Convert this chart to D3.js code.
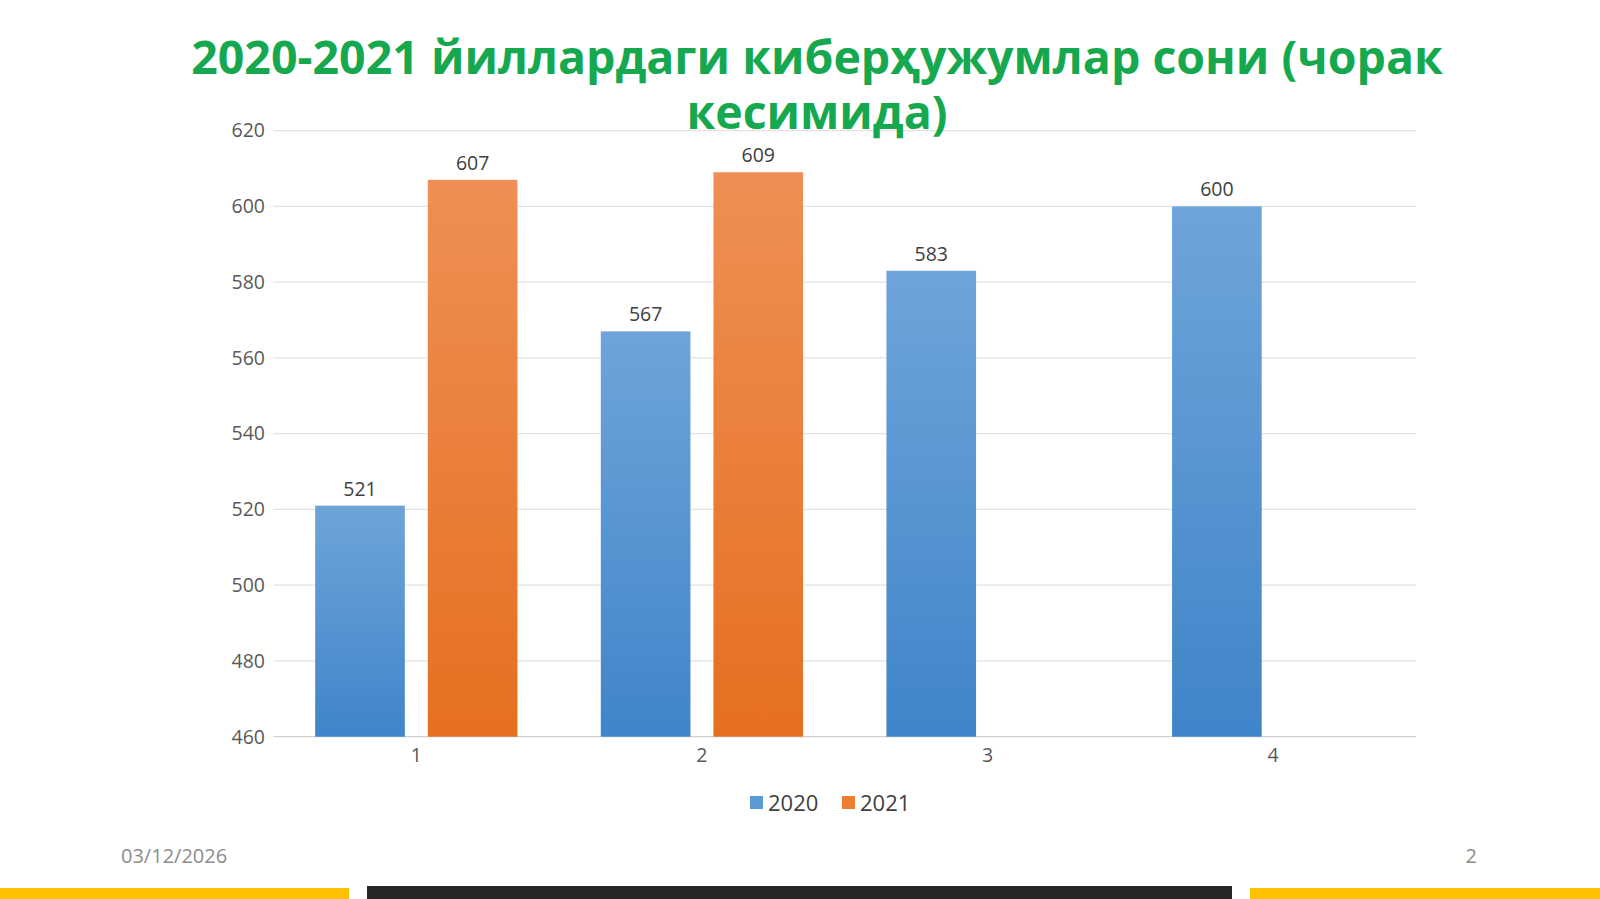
<!DOCTYPE html>
<html><head><meta charset="utf-8">
<script src="https://cdn.jsdelivr.net/npm/d3@7"></script>
<style>body{margin:0;background:#fff;font-family:"Open Sans",sans-serif}</style>
</head><body><svg id="c" width="1600" height="899"></svg>
<script>
const categories = ["1","2","3","4"];
const series = ["2020","2021"];
const values2020 = [521,567,583,600];
const values2021 = [607,609,null,null];
const yTicks = [460,480,500,520,540,560,580,600,620];
const titleLines = ["2020-2021 йиллардаги киберҳужумлар сони (чорак","кесимида)"];

const svg = d3.select("#c");
const defs = svg.append("defs");
function grad(id,top,bot){const g=defs.append("linearGradient").attr("id",id).attr("x1",0).attr("x2",0).attr("y1",0).attr("y2",1);
g.append("stop").attr("offset","0%").attr("stop-color",top);g.append("stop").attr("offset","100%").attr("stop-color",bot);}
grad("gb","#6fa4da","#3f85c9"); grad("go","#ef8f55","#e5701f");

const x = d3.scaleBand().domain(categories).range([273.5,1416]);
const xs = d3.scaleBand().domain(series).range([0,x.bandwidth()]).paddingInner(0.204).paddingOuter(0.37);
const y = d3.scaleLinear().domain([460,620]).range([736.7,130.6]);

svg.append("g").selectAll("line").data(yTicks).join("line")
 .attr("x1",273.5).attr("x2",1416).attr("y1",d=>y(d)).attr("y2",d=>y(d))
 .attr("stroke",d=>d===460?"#d0d0d0":"#e3e3e3").attr("stroke-width",1.3);
svg.append("g").selectAll("text").data(yTicks).join("text")
 .attr("x",265).attr("y",d=>y(d)).attr("dy","0.35em").attr("text-anchor","end")
 .attr("font-size",19.5).attr("fill","#595959").text(d=>d);
svg.append("g").selectAll("text").data(categories).join("text")
 .attr("x",d=>x(d)+x.bandwidth()/2).attr("y",762).attr("text-anchor","middle")
 .attr("font-size",19.5).attr("fill","#595959").text(d=>d);

const data=[];
categories.forEach((c,i)=>{
 if(values2020[i]!=null)data.push({c,s:"2020",v:values2020[i]});
 if(values2021[i]!=null)data.push({c,s:"2021",v:values2021[i]});
});
svg.append("g").selectAll("rect").data(data).join("rect")
 .attr("x",d=>x(d.c)+xs(d.s)).attr("width",xs.bandwidth())
 .attr("y",d=>y(d.v)).attr("height",d=>y(460)-y(d.v))
 .attr("fill",d=>d.s==="2020"?"url(#gb)":"url(#go)");
svg.append("g").selectAll("text").data(data).join("text")
 .attr("x",d=>x(d.c)+xs(d.s)+xs.bandwidth()/2).attr("y",d=>y(d.v)-10)
 .attr("text-anchor","middle").attr("font-size",19.5).attr("fill","#404040").text(d=>d.v);

svg.selectAll(".t").data(titleLines).join("text")
 .attr("x",817).attr("y",(d,i)=>74+i*55).attr("text-anchor","middle")
 .attr("font-size",46.5).attr("font-weight",700).attr("fill","#16a84e").text(d=>d);

const lg=svg.append("g").attr("transform","translate(750,803)");
series.forEach((s,i)=>{
 const g=lg.append("g").attr("transform",`translate(${i*92},0)`);
 g.append("rect").attr("x",0).attr("y",-7).attr("width",13).attr("height",13).attr("fill",i?"#ed7d31":"#5b9bd5");
 g.append("text").attr("x",18).attr("y",0).attr("dy","0.35em").attr("font-size",22).attr("fill","#404040").text(s);
});

svg.append("text").attr("x",121).attr("y",856).attr("dy","0.35em").attr("font-size",20).attr("fill","#8c8c8c").text("03/12/2026");
svg.append("text").attr("x",1477).attr("y",856).attr("dy","0.35em").attr("text-anchor","end").attr("font-size",20).attr("fill","#8c8c8c").text("2");
svg.append("rect").attr("x",0).attr("y",888).attr("width",349).attr("height",11).attr("fill","#ffc000");
svg.append("rect").attr("x",367).attr("y",886).attr("width",865).attr("height",13).attr("fill","#262626");
svg.append("rect").attr("x",1250).attr("y",888).attr("width",350).attr("height",11).attr("fill","#ffc000");
</script></body></html>
